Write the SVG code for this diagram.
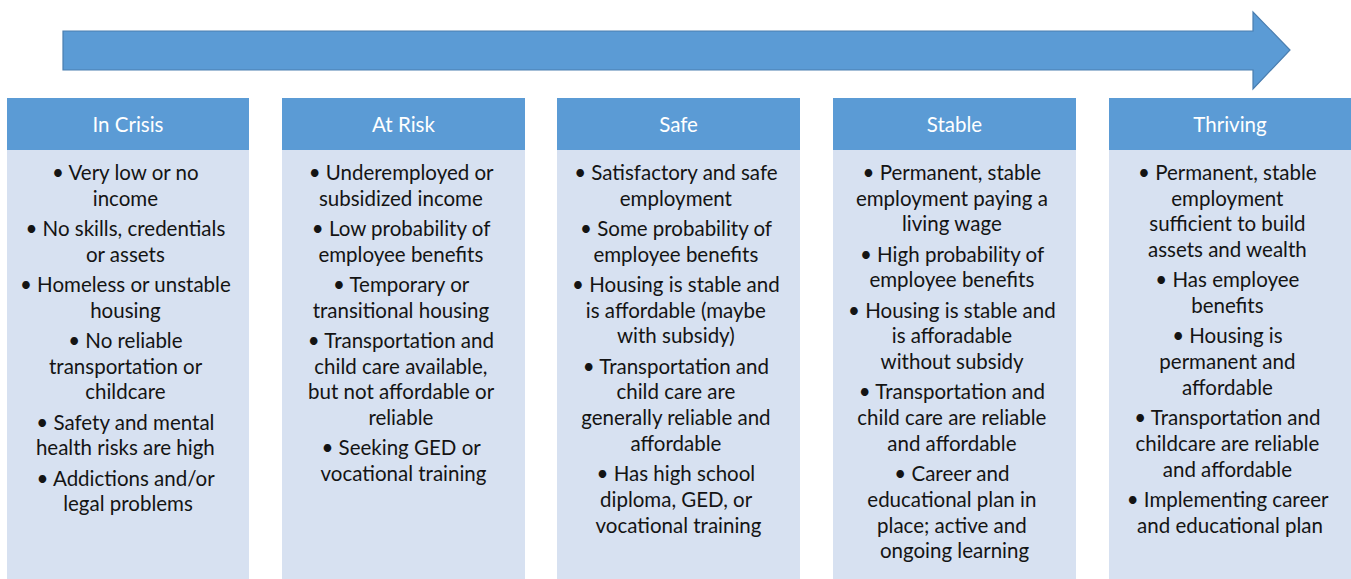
<svg xmlns="http://www.w3.org/2000/svg" width="1351" height="579" viewBox="0 0 1351 579">
<style>
.hdr{fill:#5B9BD5}
.body{fill:#D7E1F1}
.ht{font-family:Lato,"Liberation Sans",sans-serif;font-size:20.5px;fill:#FFFFFF;text-anchor:middle}
.bt{font-family:Lato,"Liberation Sans",sans-serif;font-size:20.5px;fill:#141414;text-anchor:middle}
</style>
<rect width="1351" height="579" fill="#FFFFFF"/>
<g id="arrow">
<path d="M63,31 H1253 V12 L1290,50 L1253,89 V70 H63 Z" fill="#5B9BD5" stroke="#4A7EB0" stroke-width="1.2"/>
</g>
<g id="col-crisis">
<rect class="body" x="7" y="150" width="242" height="429"/>
<rect class="hdr" x="7" y="98" width="242" height="52"/>
<text class="ht" x="128" y="132">In Crisis</text>
<text class="bt">
<tspan x="128" y="180">• Very low or no</tspan>
<tspan x="128" y="205.7">income</tspan>
<tspan x="128" y="236">• No skills, credentials</tspan>
<tspan x="128" y="261.7">or assets</tspan>
<tspan x="128" y="292">• Homeless or unstable</tspan>
<tspan x="128" y="317.7">housing</tspan>
<tspan x="128" y="348">• No reliable</tspan>
<tspan x="128" y="373.7">transportation or</tspan>
<tspan x="128" y="399.4">childcare</tspan>
<tspan x="128" y="429.7">• Safety and mental</tspan>
<tspan x="128" y="455.4">health risks are high</tspan>
<tspan x="128" y="485.7">• Addictions and/or</tspan>
<tspan x="128" y="511.4">legal problems</tspan>
</text>
</g>
<g id="col-atrisk">
<rect class="body" x="282" y="150" width="243" height="429"/>
<rect class="hdr" x="282" y="98" width="243" height="52"/>
<text class="ht" x="403.5" y="132">At Risk</text>
<text class="bt">
<tspan x="403.5" y="180">• Underemployed or</tspan>
<tspan x="403.5" y="205.7">subsidized income</tspan>
<tspan x="403.5" y="236">• Low probability of</tspan>
<tspan x="403.5" y="261.7">employee benefits</tspan>
<tspan x="403.5" y="292">• Temporary or</tspan>
<tspan x="403.5" y="317.7">transitional housing</tspan>
<tspan x="403.5" y="348">• Transportation and</tspan>
<tspan x="403.5" y="373.7">child care available,</tspan>
<tspan x="403.5" y="399.4">but not affordable or</tspan>
<tspan x="403.5" y="425.1">reliable</tspan>
<tspan x="403.5" y="455.4">• Seeking GED or</tspan>
<tspan x="403.5" y="481.1">vocational training</tspan>
</text>
</g>
<g id="col-safe">
<rect class="body" x="557" y="150" width="243" height="429"/>
<rect class="hdr" x="557" y="98" width="243" height="52"/>
<text class="ht" x="678.5" y="132">Safe</text>
<text class="bt">
<tspan x="678.5" y="180">• Satisfactory and safe</tspan>
<tspan x="678.5" y="205.7">employment</tspan>
<tspan x="678.5" y="236">• Some probability of</tspan>
<tspan x="678.5" y="261.7">employee benefits</tspan>
<tspan x="678.5" y="292">• Housing is stable and</tspan>
<tspan x="678.5" y="317.7">is affordable (maybe</tspan>
<tspan x="678.5" y="343.4">with subsidy)</tspan>
<tspan x="678.5" y="373.7">• Transportation and</tspan>
<tspan x="678.5" y="399.4">child care are</tspan>
<tspan x="678.5" y="425.1">generally reliable and</tspan>
<tspan x="678.5" y="450.8">affordable</tspan>
<tspan x="678.5" y="481.1">• Has high school</tspan>
<tspan x="678.5" y="506.8">diploma, GED, or</tspan>
<tspan x="678.5" y="532.5">vocational training</tspan>
</text>
</g>
<g id="col-stable">
<rect class="body" x="833" y="150" width="243" height="429"/>
<rect class="hdr" x="833" y="98" width="243" height="52"/>
<text class="ht" x="954.5" y="132">Stable</text>
<text class="bt">
<tspan x="954.5" y="180">• Permanent, stable</tspan>
<tspan x="954.5" y="205.7">employment paying a</tspan>
<tspan x="954.5" y="231.4">living wage</tspan>
<tspan x="954.5" y="261.7">• High probability of</tspan>
<tspan x="954.5" y="287.4">employee benefits</tspan>
<tspan x="954.5" y="317.7">• Housing is stable and</tspan>
<tspan x="954.5" y="343.4">is afforadable</tspan>
<tspan x="954.5" y="369.1">without subsidy</tspan>
<tspan x="954.5" y="399.4">• Transportation and</tspan>
<tspan x="954.5" y="425.1">child care are reliable</tspan>
<tspan x="954.5" y="450.8">and affordable</tspan>
<tspan x="954.5" y="481.1">• Career and</tspan>
<tspan x="954.5" y="506.8">educational plan in</tspan>
<tspan x="954.5" y="532.5">place; active and</tspan>
<tspan x="954.5" y="558.2">ongoing learning</tspan>
</text>
</g>
<g id="col-thriving">
<rect class="body" x="1109" y="150" width="242" height="429"/>
<rect class="hdr" x="1109" y="98" width="242" height="52"/>
<text class="ht" x="1230" y="132">Thriving</text>
<text class="bt">
<tspan x="1230" y="180">• Permanent, stable</tspan>
<tspan x="1230" y="205.7">employment</tspan>
<tspan x="1230" y="231.4">sufficient to build</tspan>
<tspan x="1230" y="257.1">assets and wealth</tspan>
<tspan x="1230" y="287.4">• Has employee</tspan>
<tspan x="1230" y="313.1">benefits</tspan>
<tspan x="1230" y="343.4">• Housing is</tspan>
<tspan x="1230" y="369.1">permanent and</tspan>
<tspan x="1230" y="394.8">affordable</tspan>
<tspan x="1230" y="425.1">• Transportation and</tspan>
<tspan x="1230" y="450.8">childcare are reliable</tspan>
<tspan x="1230" y="476.5">and affordable</tspan>
<tspan x="1230" y="506.8">• Implementing career</tspan>
<tspan x="1230" y="532.5">and educational plan</tspan>
</text>
</g>
</svg>
